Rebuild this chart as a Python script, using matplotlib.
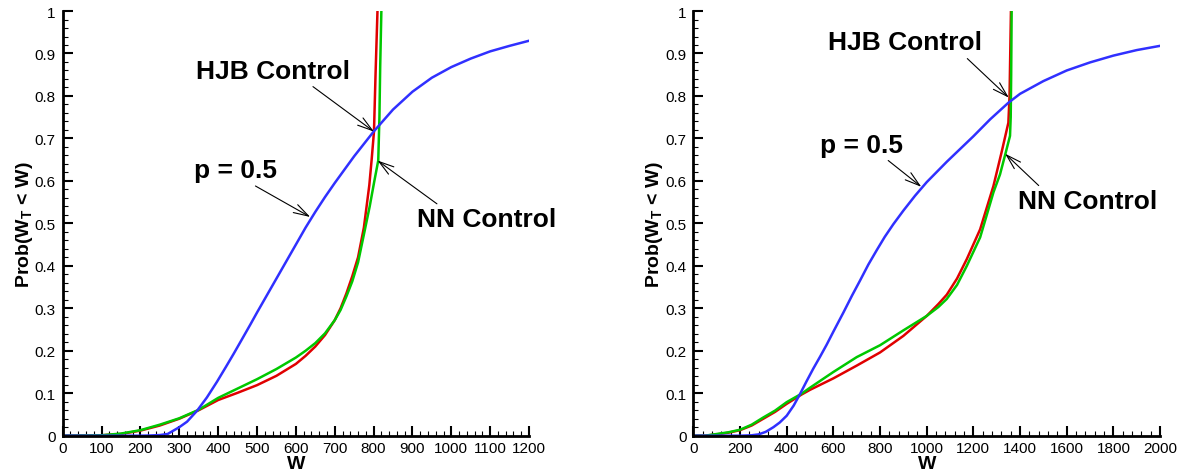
import numpy as np
import matplotlib
matplotlib.use("Agg")
import matplotlib.pyplot as plt
from matplotlib.ticker import MultipleLocator, FormatStrFormatter

plt.rcParams['font.family'] = ['Liberation Sans', 'DejaVu Sans']
plt.rcParams['mathtext.fontset'] = 'custom'
plt.rcParams['mathtext.rm'] = 'Liberation Sans:bold'
plt.rcParams['mathtext.bf'] = 'Liberation Sans:bold'

# ---- left panel (W up to 1200) ----
wL_hjb = [0, 100, 150, 200, 250, 300, 350, 400, 450, 500, 550, 600, 625, 650,
          675, 700, 715, 730, 745, 760, 775, 789, 795, 801, 805, 810]
pL_hjb = [0, 0.001, 0.004, 0.012, 0.024, 0.04, 0.06, 0.084, 0.101, 0.119, 0.141,
          0.169, 0.188, 0.21, 0.237, 0.272, 0.30, 0.335, 0.375, 0.42, 0.49,
          0.59, 0.65, 0.716, 0.85, 1.0]

wL_nn = [0, 100, 150, 200, 250, 300, 350, 400, 450, 500, 550, 600, 625, 650,
         675, 700, 715, 730, 745, 760, 776, 790, 802, 812, 815, 817, 820]
pL_nn = [0, 0.001, 0.005, 0.013, 0.026, 0.041, 0.061, 0.089, 0.111, 0.133, 0.157,
         0.184, 0.2, 0.218, 0.241, 0.272, 0.296, 0.328, 0.363, 0.408, 0.478,
         0.54, 0.6, 0.648, 0.75, 0.87, 1.0]

wL_p5 = [0, 200, 225, 250, 270, 300, 320, 346, 371, 397, 420, 440, 460, 483,
         500, 525, 550, 575, 600, 625, 650, 675, 700, 750, 800, 850, 900, 950,
         1000, 1050, 1100, 1150, 1200]
pL_p5 = [0, 0, 0.0005, 0.0015, 0.004, 0.02, 0.033, 0.059, 0.09, 0.127, 0.162,
         0.193, 0.225, 0.262, 0.29, 0.33, 0.37, 0.41, 0.45, 0.49, 0.527,
         0.562, 0.595, 0.658, 0.716, 0.768, 0.81, 0.843, 0.868, 0.888, 0.905,
         0.918, 0.93]

# ---- right panel (W up to 2000) ----
wR_hjb = [0, 50, 100, 150, 200, 250, 300, 350, 400, 464, 500, 600, 700, 800,
          900, 1000, 1050, 1086, 1130, 1172, 1229, 1286, 1322, 1350, 1355, 1358, 1361]
pR_hjb = [0, 0, 0.003, 0.007, 0.013, 0.024, 0.04, 0.056, 0.075, 0.097, 0.108,
          0.135, 0.165, 0.196, 0.235, 0.282, 0.31, 0.332, 0.37, 0.416, 0.486,
          0.588, 0.67, 0.737, 0.8, 0.9, 1.0]

wR_nn = [0, 50, 100, 150, 200, 250, 300, 350, 400, 464, 500, 600, 700, 800,
         900, 1000, 1050, 1086, 1130, 1172, 1229, 1286, 1314, 1336, 1357, 1360,
         1362, 1364]
pR_nn = [0, 0, 0.004, 0.008, 0.014, 0.026, 0.043, 0.059, 0.079, 0.099, 0.113,
         0.15, 0.185, 0.213, 0.248, 0.282, 0.303, 0.322, 0.355, 0.4, 0.467,
         0.573, 0.615, 0.661, 0.706, 0.75, 0.85, 1.0]

wR_p5 = [0, 200, 250, 279, 310, 343, 370, 400, 430, 457, 485, 514, 543, 571,
         600, 643, 680, 714, 750, 786, 820, 857, 900, 950, 1000, 1086, 1200,
         1272, 1350, 1400, 1500, 1600, 1700, 1800, 1900, 2000]
pR_p5 = [0, 0, 0.001, 0.003, 0.009, 0.02, 0.031, 0.047, 0.071, 0.098, 0.128,
         0.158, 0.186, 0.214, 0.245, 0.29, 0.33, 0.365, 0.403, 0.437, 0.468,
         0.498, 0.53, 0.565, 0.597, 0.645, 0.705, 0.745, 0.784, 0.805, 0.835,
         0.86, 0.879, 0.895, 0.908, 0.918]

# label text position, arrow tail, arrow head (data units)
notesL = [("HJB Control", (541, 0.859), (644, 0.822), (801, 0.716)),
          ("p = 0.5", (444, 0.625), (496, 0.588), (637, 0.515)),
          ("NN Control", (1090, 0.51), (963, 0.546), (810, 0.648))]
notesR = [("HJB Control", (907, 0.926), (1174, 0.888), (1352, 0.796)),
          ("p = 0.5", (721, 0.685), (835, 0.648), (977, 0.586)),
          ("NN Control", (1691, 0.552), (1480, 0.589), (1336, 0.664))]

RED = '#e00000'
GREEN = '#00c800'
BLUE = '#3030ff'

fig = plt.figure(figsize=(11.83, 4.77), dpi=100)
axL = fig.add_axes([0.0530, 0.0845, 0.3942, 0.8903])
axR = fig.add_axes([0.5861, 0.0845, 0.3945, 0.8903])


def setup(ax, xmax, major, minor):
    ax.set_xlim(0, xmax)
    ax.set_ylim(0, 1)
    for s in ['top', 'right']:
        ax.spines[s].set_visible(False)
    for s in ['left', 'bottom']:
        ax.spines[s].set_linewidth(2.0)
    ax.xaxis.set_major_locator(MultipleLocator(major))
    ax.xaxis.set_minor_locator(MultipleLocator(minor))
    ax.yaxis.set_major_locator(MultipleLocator(0.1))
    ax.yaxis.set_minor_locator(MultipleLocator(0.02))
    ax.yaxis.set_major_formatter(FormatStrFormatter('%g'))
    ax.tick_params(which='major', direction='in', length=7, width=1.5,
                   labelsize=11, top=False, right=False)
    ax.tick_params(which='minor', direction='in', length=3.5, width=0.8,
                   top=False, right=False)
    ax.tick_params(axis='y', pad=5)
    ax.tick_params(axis='x', pad=4)
    ax.set_xlabel('W', fontsize=14, fontweight='bold', labelpad=0)
    ax.set_ylabel(r'Prob(W$_\mathrm{T}$ < W)', fontsize=14, fontweight='bold',
                  labelpad=0)


def draw(ax, w_hjb, p_hjb, w_nn, p_nn, w_p5, p_p5, notes):
    ax.plot(w_hjb, p_hjb, color=RED, lw=1.8)
    ax.plot(w_nn, p_nn, color=GREEN, lw=1.8)
    ax.plot(w_p5, p_p5, color=BLUE, lw=1.8)
    for txt, tpos, tail, head in notes:
        ax.text(tpos[0], tpos[1], txt, fontsize=19, fontweight='bold',
                ha='center', va='center')
        ax.annotate('', xy=head, xytext=tail,
                    arrowprops=dict(arrowstyle='->,head_length=0.6,head_width=0.18',
                                    lw=0.8, color='black', shrinkA=0, shrinkB=0,
                                    mutation_scale=18))


setup(axL, 1200, 100, 20)
setup(axR, 2000, 200, 40)
draw(axL, wL_hjb, pL_hjb, wL_nn, pL_nn, wL_p5, pL_p5, notesL)
draw(axR, wR_hjb, pR_hjb, wR_nn, pR_nn, wR_p5, pR_p5, notesR)

fig.savefig('out.png', dpi=100)
